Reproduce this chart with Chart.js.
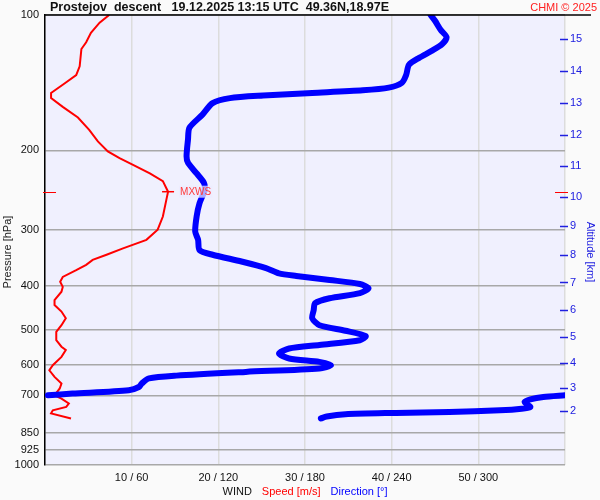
<!DOCTYPE html>
<html>
<head>
<meta charset="utf-8">
<title>Prostejov descent</title>
<script src="https://cdn.jsdelivr.net/npm/chart.js@4.4.1/dist/chart.umd.min.js"></script>
<style>
  html, body { margin: 0; padding: 0; background: #fafafa; }
  canvas { display: block; }
</style>
</head>
<body>
<canvas id="windChart" width="600" height="500"></canvas>
<script>
// axis ticks
const pressureTicks = [100, 200, 300, 400, 500, 600, 700, 850, 925, 1000];
const speedTicks = [0, 10, 20, 30, 40, 50, 60];
const altKm = [2, 3, 4, 5, 6, 7, 8, 9, 10, 11, 12, 13, 14, 15];
const altPressure = [760, 674, 592, 519, 453, 393, 341, 295, 254, 216, 185, 157, 133, 113];

// wind speed [m/s] vs pressure [hPa]
const speedP = [100, 104, 109.5, 115, 119, 130, 136, 142, 149, 153, 160, 169, 180, 191, 201, 208, 215, 225, 234, 247,
  257.5, 280.5, 300, 316, 330, 341, 350, 359, 369, 382, 391.5, 402, 412, 430, 441, 456, 472, 489, 506, 528,
  546, 555, 575, 600, 616, 637, 659, 676, 700, 712, 730, 743, 756, 768, 788];
const speedVal = [7.4, 6.3, 5.3, 4.75, 4.2, 4.0, 3.6, 2.25, 0.7, 0.7, 2.05, 3.8, 5.1, 6.1, 7.25, 8.6, 10.1, 12.1, 13.6, 14.2,
  14.0, 13.6, 13.0, 11.7, 9.0, 7.1, 5.5, 4.75, 3.6, 2.05, 1.75, 2.05, 1.9, 1.1, 1.1, 1.9, 2.4, 1.9, 1.3, 1.3,
  1.9, 2.4, 1.9, 0.9, 0.5, 1.1, 1.9, 1.7, 1.1, 1.9, 2.75, 2.45, 0.9, 0.7, 3.0];

// wind direction [deg] vs pressure, split where it wraps 0 -> 360
const dirP = [100, 103, 108, 112, 116, 120, 124.5, 129, 136, 141.5, 145, 147, 149, 151, 153, 157, 166.5, 178, 189, 206,
  213, 225, 236, 245, 262, 280, 303, 316, 333, 341, 353, 365, 375, 380, 388, 396, 405, 415, 426, 437,
  453, 472, 489, 503, 517, 528, 541, 551, 565, 580, 590, 600, 610, 621, 633, 642, 659, 671, 682, 694, 700];
const dirVal = [267, 270, 274, 278, 275, 268, 259, 252, 250, 247, 238, 220, 185, 151, 128, 116, 109, 100, 99, 98,
  99, 105, 110, 110.5, 107, 105, 104, 106, 107, 116, 136, 153, 162, 174, 197, 218, 224, 218, 197, 187,
  186, 185, 190, 208, 222, 218, 190, 169, 162, 169, 190, 198, 190, 139, 91, 72, 67, 65, 58, 19, 2];
const dirLowP = [700, 706, 715, 725, 735, 743, 750, 756, 762, 766, 771, 780, 788];
const dirLowVal = [360, 345, 336, 332, 334, 336, 330, 315, 280, 243, 208, 195, 191];

// max wind
const maxWindSpeed = 14.2;
const maxWindP = 247;

const toPoints = (xs, ps) => ps.map((p, i) => ({ x: xs[i], y: p }));
const DIR_SCALE = 6; // 360 deg over the 60 m/s axis

Chart.defaults.font.family = '"Liberation Sans", Arial, sans-serif';
Chart.defaults.font.size = 11;

const extras = {
  id: 'extras',
  beforeDraw(chart) {
    const { ctx, chartArea: a } = chart;
    ctx.save();
    ctx.fillStyle = '#fafafa';
    ctx.fillRect(0, 0, chart.width, chart.height);
    ctx.fillStyle = '#f0f0fe';
    ctx.fillRect(a.left, a.top, a.right - a.left, a.bottom - a.top);
    ctx.restore();
  },
  afterDatasetsDraw(chart) {
    const { ctx, scales } = chart;
    const y = scales.y.getPixelForValue(maxWindP);
    const x = scales.x.getPixelForValue(maxWindSpeed) + 12;
    ctx.save();
    ctx.font = '10px "Liberation Sans", Arial, sans-serif';
    const w = ctx.measureText('MXWS').width;
    ctx.fillStyle = 'rgba(236,236,255,0.72)';
    ctx.fillRect(x - 1, y - 6, w + 2, 12);
    ctx.fillStyle = '#ff3a3a';
    ctx.textBaseline = 'middle';
    ctx.fillText('MXWS', x, y + 1);
    ctx.restore();
  },
  afterDraw(chart) {
    const { ctx, chartArea: a, scales } = chart;
    ctx.save();
    // top border
    ctx.strokeStyle = '#000';
    ctx.lineWidth = 1.5;
    ctx.beginPath();
    ctx.moveTo(a.left, a.top);
    ctx.lineTo(591, a.top);
    ctx.stroke();

    // altitude tick marks
    ctx.strokeStyle = '#2020e0';
    ctx.lineWidth = 1.5;
    altPressure.forEach(p => {
      const ty = Math.round(scales.alt.getPixelForValue(p)) + 0.5;
      ctx.beginPath();
      ctx.moveTo(a.right - 5, ty);
      ctx.lineTo(a.right + 3, ty);
      ctx.stroke();
    });

    // max wind level marks on both axes
    const my = Math.round(scales.y.getPixelForValue(maxWindP)) + 0.5;
    ctx.strokeStyle = '#ff0000';
    ctx.lineWidth = 1;
    ctx.beginPath();
    ctx.moveTo(a.left - 2, my); ctx.lineTo(a.left + 11, my);
    ctx.moveTo(a.right - 10, my); ctx.lineTo(a.right + 3, my);
    ctx.stroke();

    // title
    ctx.textBaseline = 'middle';
    ctx.fillStyle = '#111';
    ctx.font = 'bold 12.5px "Liberation Sans", Arial, sans-serif';
    ctx.textAlign = 'left';
    ctx.fillText('Prostejov  descent   19.12.2025 13:15 UTC  49.36N,18.97E', 50, 8);
    ctx.fillStyle = '#ff2020';
    ctx.font = '11px "Liberation Sans", Arial, sans-serif';
    ctx.textAlign = 'right';
    ctx.fillText('CHMI \u00a9 2025', 597, 8);

    // wind legend line
    ctx.textAlign = 'left';
    const parts = [['WIND', '#111'], ['Speed [m/s]', '#ff0000'], ['Direction [\u00b0]', '#0000ff']];
    const gap = 10;
    const widths = parts.map(p => ctx.measureText(p[0]).width);
    let tx = (a.left + a.right) / 2 - (widths.reduce((s, v) => s + v, 0) + gap * 2) / 2;
    parts.forEach((p, i) => {
      ctx.fillStyle = p[1];
      ctx.fillText(p[0], tx, 492);
      tx += widths[i] + gap;
    });

    // axis titles
    ctx.textAlign = 'center';
    ctx.save();
    ctx.translate(8, 252);
    ctx.rotate(-Math.PI / 2);
    ctx.fillStyle = '#222';
    ctx.fillText('Pressure [hPa]', 0, 0);
    ctx.restore();
    ctx.save();
    ctx.translate(590, 252);
    ctx.rotate(Math.PI / 2);
    ctx.fillStyle = '#2020e0';
    ctx.fillText('Altitude [km]', 0, 0);
    ctx.restore();

    ctx.restore();
  }
};

const windChart = new Chart(document.getElementById('windChart').getContext('2d'), {
  type: 'scatter',
  data: {
    datasets: [
      {
        label: 'Direction',
        data: toPoints(dirVal.map(d => d / DIR_SCALE), dirP),
        showLine: true,
        borderColor: '#0000ff',
        borderWidth: 6,
        borderCapStyle: 'round',
        borderJoinStyle: 'round',
        tension: 0.25,
        pointRadius: 0
      },
      {
        label: 'Direction low',
        data: toPoints(dirLowVal.map(d => d / DIR_SCALE), dirLowP),
        showLine: true,
        borderColor: '#0000ff',
        borderWidth: 6,
        borderCapStyle: 'round',
        borderJoinStyle: 'round',
        tension: 0.25,
        pointRadius: 0
      },
      {
        label: 'Speed',
        data: toPoints(speedVal, speedP),
        showLine: true,
        borderColor: '#ff0000',
        borderWidth: 2,
        tension: 0,
        pointRadius: 0
      },
      {
        label: 'MXWS',
        data: [{ x: maxWindSpeed, y: maxWindP }],
        pointStyle: 'line',
        pointRadius: 6,
        borderColor: '#ff0000',
        borderWidth: 1.5
      }
    ]
  },
  options: {
    responsive: false,
    devicePixelRatio: 1,
    animation: false,
    layout: { padding: { top: 15, left: 0, right: 0, bottom: 0 } },
    plugins: {
      legend: { display: false },
      tooltip: { enabled: false }
    },
    scales: {
      x: {
        type: 'linear',
        min: 0,
        max: 60,
        afterBuildTicks: s => { s.ticks = speedTicks.map(v => ({ value: v })); },
        ticks: {
          autoSkip: false,
          maxRotation: 0,
          padding: 6,
          color: '#111',
          callback: v => (v > 0 && v < 60) ? v + ' / ' + v * DIR_SCALE : ''
        },
        grid: { color: '#dcdcdc', lineWidth: 1.5, drawTicks: false },
        border: { display: false },
        afterFit: s => { s.height = 35; }
      },
      y: {
        type: 'logarithmic',
        reverse: true,
        min: 100,
        max: 1000,
        afterBuildTicks: s => { s.ticks = pressureTicks.map(v => ({ value: v })); },
        ticks: {
          autoSkip: false,
          padding: 6,
          color: '#111',
          callback: v => String(v)
        },
        grid: { color: '#a8a8a8', lineWidth: 1.5, drawTicks: false },
        border: { color: '#000', width: 1.5 },
        afterFit: s => { s.width = 45; }
      },
      alt: {
        type: 'logarithmic',
        position: 'right',
        reverse: true,
        min: 100,
        max: 1000,
        afterBuildTicks: s => { s.ticks = altPressure.map(v => ({ value: v })); },
        ticks: {
          autoSkip: false,
          padding: 5,
          color: '#2020e0',
          callback: (v, i) => String(altKm[i])
        },
        grid: { drawOnChartArea: false, drawTicks: false },
        border: { display: false },
        afterFit: s => { s.width = 35; }
      }
    }
  },
  plugins: [extras]
});
</script>
</body>
</html>
